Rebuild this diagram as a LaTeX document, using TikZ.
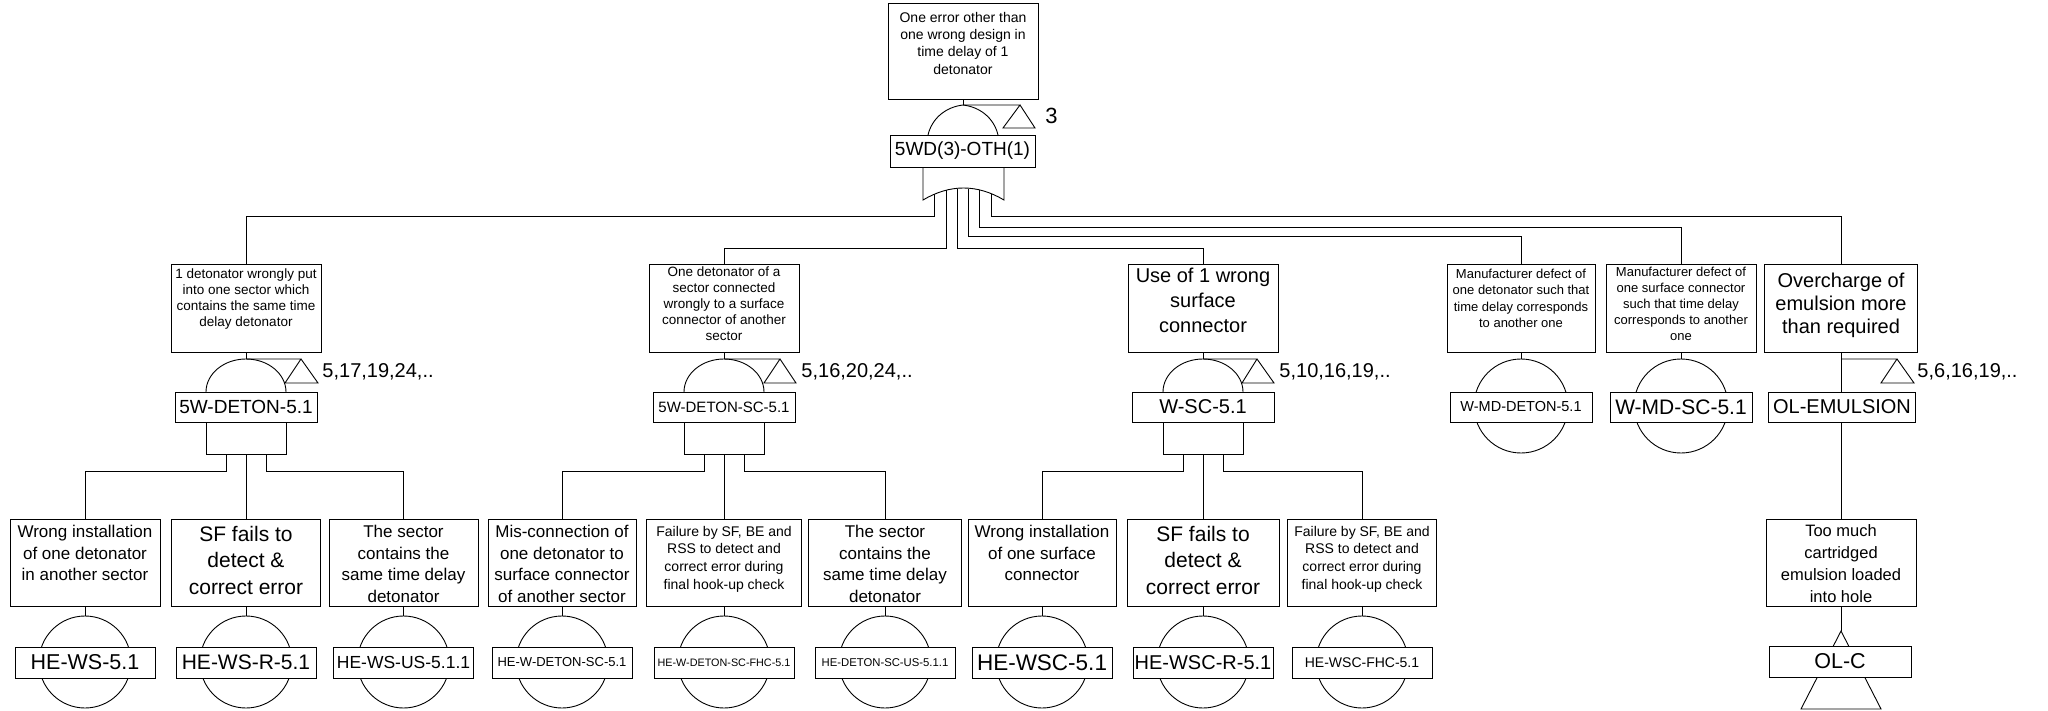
\documentclass[tikz,border=0pt]{standalone}
\usepackage{fontspec}
\setmainfont{Liberation Sans}
\usepackage{tikz}

\newcommand{\fz}[2]{\fontsize{#1}{#2}\selectfont}
\newcommand{\evtext}[4]{\parbox[c][#2][t]{#1}{\centering\vspace*{#3}#4}}
% and gate body, #1 = centre x
\newcommand{\andgate}[1]{%
  \draw (#1-40,392) arc[start angle=180, end angle=0, x radius=40pt, y radius=33pt];
  \draw (#1-40,422) -- (#1-40,454) -- (#1+40,454) -- (#1+40,422);}

\begin{document}
\begin{tikzpicture}[x=1pt, y=-1pt, line width=0.9pt,
    ev/.style={draw, fill=white, inner sep=0pt},
    lbl/.style={draw, fill=white, inner sep=0pt, minimum width=142pt, minimum height=30pt},
    blbl/.style={lbl, minimum width=140pt, minimum height=31pt},
    evc/.style={circle, draw, inner sep=0pt, minimum size=92pt},
    trf/.style={anchor=west, inner sep=0pt, font=\fz{20}{24}}]
    \useasboundingbox (0,0) rectangle (2048,711);

    % Top event
    \node[ev] (top) at (963,51) {\evtext{150pt}{96pt}{9pt}{\fz{14}{17.3}One error other than\\one wrong design in\\time delay of 1\\detonator}};
    \coordinate (gTopIn) at (963,105);
    \draw (top) -- (gTopIn);
    \draw (928,135) .. controls (932,118) and (946,107) .. (gTopIn) .. controls (980,107) and (994,118) .. (998,135);
    \draw (923,167) -- (923,200) .. controls (950,184) and (977,184) .. (1004,200) -- (1004,167);
    \node[lbl, minimum width=145pt, minimum height=32pt, font=\fz{19}{22}] (gTop) at (962.5,151) {5WD(3)-OTH(1)};
    \draw (gTopIn) -- ++(57,0) -- ++(-17,23) -- ++(32,0) -- ++(-15,-23);
    \node[trf, font=\fz{22}{26}] (trTop) at (1045,116) {3};

    % 1 detonator in a sector with same delay
    \node[ev] (wsDet) at (246,308) {\evtext{150pt}{88pt}{5pt}{\fz{13.5}{16}1 detonator wrongly put\\into one sector which\\contains the same time\\delay detonator}};
    \draw (gTop.south) ++(-28,27) -- ++(0,22) -| (wsDet.north);
    \coordinate (gWsDetIn) at (246,359);
    \draw (wsDet) -- (gWsDetIn);
    \andgate{246}
    \node[lbl, font=\fz{19}{22}] (gWsDet) at (246,407) {5W-DETON-5.1};
    \draw (gWsDetIn) -- ++(55,0) -- ++(-16,24) -- ++(33,0) -- ++(-17,-24);
    \node[trf] (trWsDet) at (322,372) {5,17,19,24,..};

    % detonator to surface connector of another sector
    \node[ev] (detSc) at (724,308) {\evtext{150pt}{88pt}{3pt}{\fz{13.5}{16}One detonator of a\\sector connected\\wrongly to a surface\\connector of another\\sector}};
    \draw (gTop.south) ++(-16,23) -- ++(0,58) -| (detSc.north);
    \coordinate (gDetScIn) at (724,359);
    \draw (detSc) -- (gDetScIn);
    \andgate{724}
    \node[lbl, font=\fz{15}{18}] (gDetSc) at (724,407) {5W-DETON-SC-5.1};
    \draw (gDetScIn) -- ++(56,0) -- ++(-16,24) -- ++(32,0) -- ++(-16,-24);
    \node[trf] (trDetSc) at (801,372) {5,16,20,24,..};

    % wrong surface connector
    \node[ev] (wSc) at (1203,308) {\evtext{150pt}{88pt}{4pt}{\fz{20}{25}Use of 1 wrong\\surface\\connector}};
    \draw (gTop.south) ++(-5,21.5) -- ++(0,59.5) -| (wSc.north);
    \coordinate (gWscIn) at (1203,359);
    \draw (wSc) -- (gWscIn);
    \andgate{1203}
    \node[lbl, font=\fz{20}{24}] (gWsc) at (1203,407) {W-SC-5.1};
    \draw (gWscIn) -- ++(54,0) -- ++(-15,24) -- ++(32,0) -- ++(-17,-24);
    \node[trf] (trWsc) at (1279,372) {5,10,16,19,..};

    % manufacturer defects
    \node[ev] (mdDet) at (1521,308) {\evtext{148pt}{88pt}{5pt}{\fz{13}{16.5}Manufacturer defect of\\one detonator such that\\time delay corresponds\\to another one}};
    \draw (gTop.south) ++(6,21.5) -- ++(0,48) -| (mdDet.north);
    \node[evc, minimum size=94pt] (mdDetC) at (1521,406) {};
    \draw (mdDet) -- (mdDetC);
    \node[lbl, font=\fz{14.5}{18}] (mdDetL) at (1521,407) {W-MD-DETON-5.1};

    \node[ev] (mdSc) at (1681,308) {\evtext{150pt}{88pt}{3pt}{\fz{13}{16}Manufacturer defect of\\one surface connector\\such that time delay\\corresponds to another\\one}};
    \draw (gTop.south) ++(17,23) -- ++(0,37) -| (mdSc.north);
    \node[evc, minimum size=94pt] (mdScC) at (1681,406) {};
    \draw (mdSc) -- (mdScC);
    \node[lbl, font=\fz{21}{25}] (mdScL) at (1681,407) {W-MD-SC-5.1};

    % overcharge of emulsion
    \node[ev] (olEm) at (1841,308) {\evtext{153pt}{88pt}{9pt}{\fz{20}{23}Overcharge of\\emulsion more\\than required}};
    \draw (gTop.south) ++(29,27) -- ++(0,22) -| (olEm.north);
    \node[ev] (tooMuch) at (1841,562.5) {\evtext{150pt}{87pt}{6pt}{\fz{16.5}{21.7}Too much\\cartridged\\emulsion loaded\\into hole}};
    \draw (olEm) -- (tooMuch);
    \coordinate (olEmT) at (1841,359);
    \draw (olEmT) -- ++(56,0) -- ++(-16,24) -- ++(33,0) -- ++(-17,-24);
    \node[trf] (trOlEm) at (1917,372) {5,6,16,19,..};
    \node[lbl, minimum width=147pt, font=\fz{20}{24}] (olEmL) at (1842,407) {OL-EMULSION};
    \coordinate (olcIn) at (1841,631);
    \draw (tooMuch) -- (olcIn);
    \draw (olcIn) -- (1801,709) -- (1881,709) -- cycle;
    \node[blbl, minimum width=142pt, font=\fz{21.5}{25}] (olcL) at (1840,661.5) {OL-C};

    % basic events under 5W-DETON-5.1
    \node[ev] (heWs) at (85,562.5) {\evtext{150pt}{87pt}{6pt}{\fz{17}{21.7}Wrong installation\\of one detonator\\in another sector}};
    \node[ev] (heWsR) at (246,562.5) {\evtext{149pt}{87pt}{7pt}{\fz{21}{26.7}SF fails to\\detect \&\\correct error}};
    \node[ev] (heWsUs) at (403.5,562.5) {\evtext{149pt}{87pt}{6pt}{\fz{17}{21.7}The sector\\contains the\\same time delay\\detonator}};
    \draw (gWsDet.south) ++(-20,32) -- ++(0,17) -| (heWs.north);
    \draw (gWsDet.south) ++(0,32) -- (heWsR.north);
    \draw (gWsDet.south) ++(20,32) -- ++(0,17) -| (heWsUs.north);
    \node[evc] (heWsC) at (85,662) {};
    \node[evc] (heWsRC) at (246,662) {};
    \node[evc] (heWsUsC) at (403.5,662) {};
    \draw (heWs) -- (heWsC);
    \draw (heWsR) -- (heWsRC);
    \draw (heWsUs) -- (heWsUsC);
    \node[blbl, font=\fz{21.5}{25}] (heWsL) at (85,662.5) {HE-WS-5.1};
    \node[blbl, font=\fz{21}{25}] (heWsRL) at (246,662.5) {HE-WS-R-5.1};
    \node[blbl, font=\fz{17.5}{21}] (heWsUsL) at (403.5,662.5) {HE-WS-US-5.1.1};

    % basic events under 5W-DETON-SC-5.1
    \node[ev] (heDetSc) at (562,562.5) {\evtext{148pt}{87pt}{6pt}{\fz{17}{21.7}Mis-connection of\\one detonator to\\surface connector\\of another sector}};
    \node[ev] (heDetScF) at (724,562.5) {\evtext{155pt}{87pt}{7pt}{\fz{14}{17.7}Failure by SF, BE and\\RSS to detect and\\correct error during\\final hook-up check}};
    \node[ev] (heDetScUs) at (885,562.5) {\evtext{153pt}{87pt}{6pt}{\fz{17}{21.7}The sector\\contains the\\same time delay\\detonator}};
    \draw (gDetSc.south) ++(-20,32) -- ++(0,17) -| (heDetSc.north);
    \draw (gDetSc.south) ++(0,32) -- (heDetScF.north);
    \draw (gDetSc.south) ++(20,32) -- ++(0,17) -| (heDetScUs.north);
    \node[evc] (heDetScC) at (562,662) {};
    \node[evc] (heDetScFC) at (724,662) {};
    \node[evc] (heDetScUsC) at (885,662) {};
    \draw (heDetSc) -- (heDetScC);
    \draw (heDetScF) -- (heDetScFC);
    \draw (heDetScUs) -- (heDetScUsC);
    \node[blbl, font=\fz{13}{16}] (heDetScL) at (562,662.5) {HE-W-DETON-SC-5.1};
    \node[blbl, font=\fz{10.8}{13}] (heDetScFL) at (724,662.5) {HE-W-DETON-SC-FHC-5.1};
    \node[blbl, font=\fz{11.3}{14}] (heDetScUsL) at (885,662.5) {HE-DETON-SC-US-5.1.1};

    % basic events under W-SC-5.1
    \node[ev] (heWsc) at (1042,562.5) {\evtext{148pt}{87pt}{6pt}{\fz{17}{21.7}Wrong installation\\of one surface\\connector}};
    \node[ev] (heWscR) at (1203,562.5) {\evtext{152pt}{87pt}{7pt}{\fz{21}{26.7}SF fails to\\detect \&\\correct error}};
    \node[ev] (heWscF) at (1362,562.5) {\evtext{149pt}{87pt}{7pt}{\fz{14}{17.7}Failure by SF, BE and\\RSS to detect and\\correct error during\\final hook-up check}};
    \draw (gWsc.south) ++(-20,32) -- ++(0,17) -| (heWsc.north);
    \draw (gWsc.south) ++(0,32) -- (heWscR.north);
    \draw (gWsc.south) ++(20,32) -- ++(0,17) -| (heWscF.north);
    \node[evc] (heWscC) at (1042,662) {};
    \node[evc] (heWscRC) at (1203,662) {};
    \node[evc] (heWscFC) at (1362,662) {};
    \draw (heWsc) -- (heWscC);
    \draw (heWscR) -- (heWscRC);
    \draw (heWscF) -- (heWscFC);
    \node[blbl, font=\fz{22.5}{26}] (heWscL) at (1042,662.5) {HE-WSC-5.1};
    \node[blbl, font=\fz{20}{24}] (heWscRL) at (1203,662.5) {HE-WSC-R-5.1};
    \node[blbl, font=\fz{14}{17}] (heWscFL) at (1362,662.5) {HE-WSC-FHC-5.1};
\end{tikzpicture}
\end{document}
